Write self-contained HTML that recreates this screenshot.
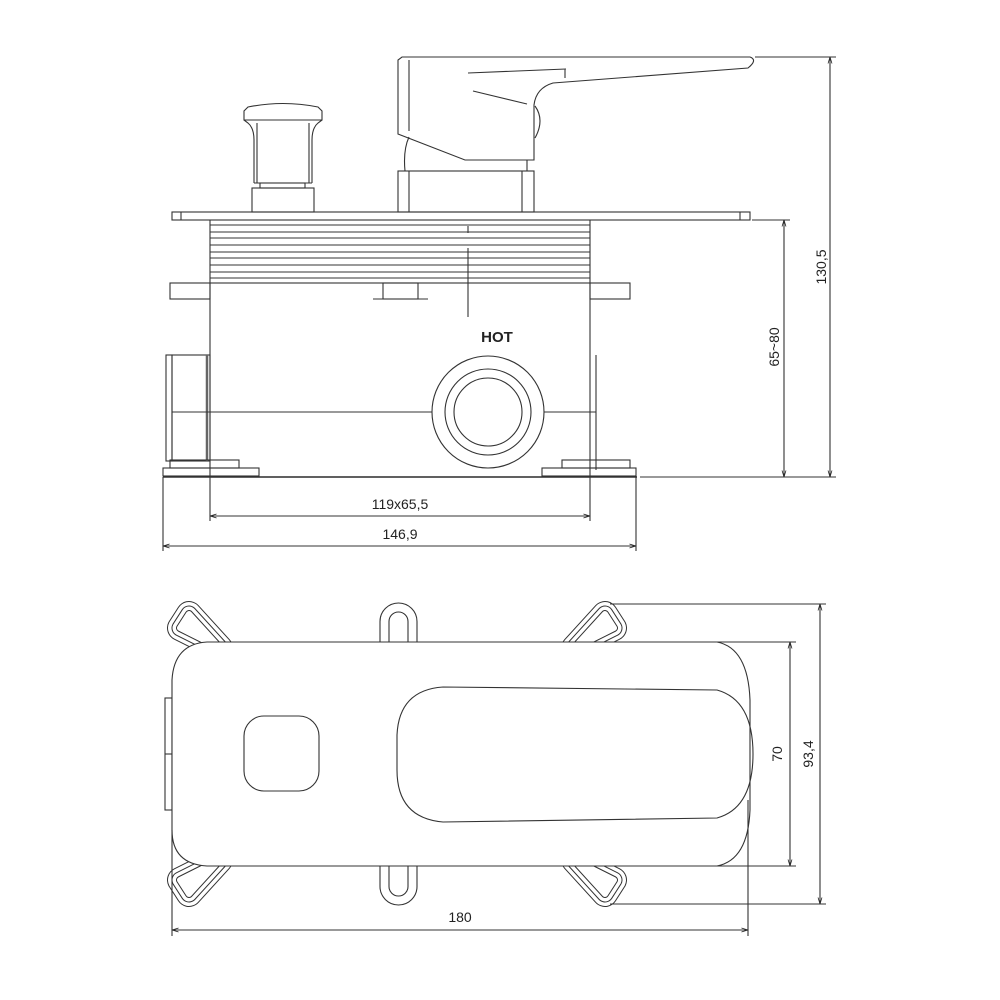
<!DOCTYPE html>
<html><head><meta charset="utf-8"><style>
html,body{margin:0;padding:0;background:#fff}
svg{display:block}
text{font-family:"Liberation Sans",sans-serif;fill:#222}
</style></head><body>
<svg width="1000" height="1000" viewBox="0 0 1000 1000" xmlns="http://www.w3.org/2000/svg">
<defs>
<marker id="a" viewBox="0 0 10 10" refX="10" refY="5" markerWidth="6" markerHeight="6" orient="auto-start-reverse"><path d="M0,2 L10,5 L0,8" fill="none" stroke="#222" stroke-width="1.2"/></marker>
<g id="ear">
<polygon points="180,628 189,614 220,648" fill="#fff" stroke="#333" stroke-width="26" stroke-linejoin="round"/>
<polygon points="180,628 189,614 220,648" fill="#fff" stroke="#fff" stroke-width="24" stroke-linejoin="round"/>
<polygon points="180,628 189,614 220,648" fill="#fff" stroke="#333" stroke-width="17" stroke-linejoin="round"/>
<polygon points="180,628 189,614 220,648" fill="#fff" stroke="#fff" stroke-width="15" stroke-linejoin="round"/>
<polygon points="180,628 189,614 220,648" fill="#fff" stroke="#333" stroke-width="8" stroke-linejoin="round"/>
<polygon points="180,628 189,614 220,648" fill="#fff" stroke="#fff" stroke-width="6" stroke-linejoin="round"/>
</g>
<g id="oval">
<rect x="380" y="603" width="37" height="60" rx="18.5" fill="#fff" stroke="#333" stroke-width="1.1"/>
<rect x="389" y="612" width="19" height="42" rx="9.5" fill="#fff" stroke="#333" stroke-width="1.1"/>
</g>
</defs>
<g fill="none" stroke="#333" stroke-width="1.1">
<path d="M248,107 Q283,100 318,107 L322,111 L322,120 L244,120 L244,111 Z"/>
<path d="M244,120 L248,123 Q254,128 254,140 L254,183 M322,120 L318,123 Q312,128 312,140 L312,183"/>
<path d="M257,123 L257,183 M309,123 L309,183"/>
<line x1="254" y1="183" x2="312" y2="183"/>
<rect x="260" y="183" width="45" height="5"/>
<rect x="252" y="188" width="62" height="24"/>
<path d="M402,57 L750,57 Q758,60 748,68 L553,83 Q536,88 534,105 L534,160 L465,160 L398,134 L398,60 Z"/>
<line x1="409" y1="60" x2="409" y2="131"/>
<path d="M468,73 L566,69 M565,69 L565,78 M473,91 L527,104"/>
<path d="M535,106 Q545,120 535,138"/>
<path d="M409,137 Q403,150 405,171 M527,160 L527,171"/>
<rect x="398" y="171" width="136" height="41"/>
<line x1="409" y1="171" x2="409" y2="212"/>
<line x1="522" y1="171" x2="522" y2="212"/>
<rect x="172" y="212" width="578" height="8"/>
<line x1="181" y1="212" x2="181" y2="220"/>
<line x1="740" y1="212" x2="740" y2="220"/>
<path d="M210,220 L210,283 M590,220 L590,283"/>
<path d="M210,225H590M210,232H590M210,238H590M210,245H590M210,252H590M210,258H590M210,265H590M210,272H590M210,278H590M210,283H590"/>
<line x1="468" y1="226" x2="468" y2="233"/>
<line x1="468" y1="248" x2="468" y2="317"/>
<rect x="210" y="283" width="380" height="194"/>
<rect x="170" y="283" width="40" height="16"/>
<rect x="590" y="283" width="40" height="16"/>
<rect x="383" y="283" width="35" height="16"/>
<line x1="373" y1="299" x2="428" y2="299"/>
<rect x="166" y="355" width="6" height="106"/>
<rect x="172" y="355" width="38" height="106"/>
<line x1="207" y1="355" x2="207" y2="461" stroke-width="2.5" stroke="#666"/>
<line x1="596" y1="355" x2="596" y2="470"/>
<line x1="172" y1="412" x2="432" y2="412"/>
<line x1="544" y1="412" x2="596" y2="412"/>
<circle cx="488" cy="412" r="56"/>
<circle cx="488" cy="412" r="43"/>
<circle cx="488" cy="412" r="34"/>
<rect x="170" y="460" width="69" height="8"/>
<rect x="163" y="468" width="96" height="8"/>
<rect x="562" y="460" width="68" height="8"/>
<rect x="542" y="468" width="94" height="8"/>
<line x1="163" y1="477" x2="637" y2="477" stroke-width="1.4"/>
<line x1="755" y1="57" x2="836" y2="57"/>
<line x1="640" y1="477" x2="836" y2="477"/>
<line x1="830" y1="57" x2="830" y2="477" marker-start="url(#a)" marker-end="url(#a)"/>
<line x1="752" y1="220" x2="790" y2="220"/>
<line x1="784" y1="220" x2="784" y2="477" marker-start="url(#a)" marker-end="url(#a)"/>
<line x1="210" y1="477" x2="210" y2="521"/>
<line x1="590" y1="477" x2="590" y2="521"/>
<line x1="210" y1="516" x2="590" y2="516" marker-start="url(#a)" marker-end="url(#a)"/>
<line x1="163" y1="477" x2="163" y2="551"/>
<line x1="636" y1="477" x2="636" y2="551"/>
<line x1="163" y1="546" x2="636" y2="546" marker-start="url(#a)" marker-end="url(#a)"/>
</g>
<text x="497" y="342" font-size="15" font-weight="bold" text-anchor="middle" fill="#333">HOT</text>
<text x="400" y="509" font-size="14" text-anchor="middle">119x65,5</text>
<text x="400" y="539" font-size="14" text-anchor="middle">146,9</text>
<text transform="translate(826,267) rotate(-90)" font-size="14" text-anchor="middle">130,5</text>
<text transform="translate(779,347) rotate(-90)" font-size="14" text-anchor="middle">65~80</text>

<use href="#ear"/>
<use href="#ear" transform="translate(794,0) scale(-1,1)"/>
<use href="#ear" transform="translate(0,1508) scale(1,-1)"/>
<use href="#ear" transform="translate(794,1508) scale(-1,-1)"/>
<use href="#oval"/>
<use href="#oval" transform="translate(0,1508) scale(1,-1)"/>
<g fill="none" stroke="#333" stroke-width="1.1">
<rect x="165" y="698" width="7" height="112" fill="#fff"/>
<line x1="165" y1="754" x2="172" y2="754"/>
<path d="M207,642 L717,642 Q748,648 750,700 L750,810 Q748,860 717,866 L207,866 Q172,864 172,830 L172,680 Q174,644 207,642 Z" fill="#fff"/>
<rect x="244" y="716" width="75" height="75" rx="20"/>
<path d="M443,687 L717,690 Q753,700 753,754 Q753,808 717,818 L443,822 Q397,818 397,770 L397,735 Q399,690 443,687 Z"/>
<line x1="172" y1="830" x2="172" y2="936"/>
<line x1="748" y1="800" x2="748" y2="936"/>
<line x1="172" y1="930" x2="748" y2="930" marker-start="url(#a)" marker-end="url(#a)"/>
<line x1="717" y1="642" x2="796" y2="642"/>
<line x1="717" y1="866" x2="796" y2="866"/>
<line x1="790" y1="642" x2="790" y2="866" marker-start="url(#a)" marker-end="url(#a)"/>
<line x1="610" y1="604" x2="826" y2="604"/>
<line x1="610" y1="904" x2="826" y2="904"/>
<line x1="820" y1="604" x2="820" y2="904" marker-start="url(#a)" marker-end="url(#a)"/>
</g>
<text x="460" y="922" font-size="14" text-anchor="middle">180</text>
<text transform="translate(782,754) rotate(-90)" font-size="14" text-anchor="middle">70</text>
<text transform="translate(813,754) rotate(-90)" font-size="14" text-anchor="middle">93,4</text>
</svg>
</body></html>
